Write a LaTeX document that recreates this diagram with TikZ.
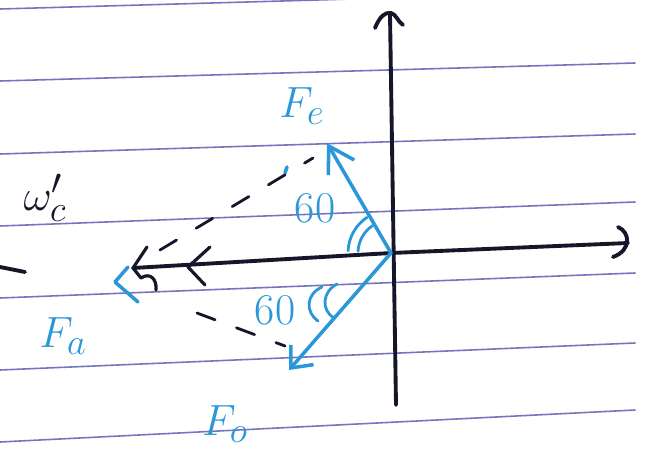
\documentclass[tikz,border=0pt]{standalone}
\usepackage{xcolor}
\usepackage{amsmath}
\usepackage{tikz}
\usetikzlibrary{arrows.meta}
\definecolor{inkblue}{HTML}{2A98D8}
\definecolor{inkblack}{HTML}{16162A}
\definecolor{rulepurple}{HTML}{5C5CB4}

\begin{document}
\begin{tikzpicture}[
    x=0.02cm, y=-0.02cm,
    line cap=round,
    line join=round,
    ruleline/.style={draw=rulepurple!85, line width=0.9pt},
    axisline/.style={draw=inkblack, line width=2.2pt},
    forceline/.style={draw=inkblue, line width=2pt},
    guideline/.style={draw=inkblack, line width=1.6pt, dash pattern=on 11pt off 13pt},
    anglemark/.style={draw=inkblue, line width=1.6pt},
    forcelbl/.style={text=inkblue, font=\fontsize{30}{34}\selectfont},
    anglelbl/.style={text=inkblue, font=\fontsize{25}{29}\selectfont},
    barbe/.style={-{Straight Barb[length=5mm,width=6mm]}},
    barbo/.style={-{Straight Barb[length=3.5mm,width=6mm]}}
]
\useasboundingbox[fill=white] (0,0) rectangle (645,453);
\clip (0,0) rectangle (645,453);

% Ruled paper
\foreach \yl/\yr in {9/-9, 81/63, 154/134, 226/202, 298/273, 370/343, 442/410}
    \draw[ruleline] (0,\yl) -- (635,\yr);

% Points
\coordinate (O) at (391,253);
\coordinate (ytop) at (390,14);
\coordinate (ybot) at (396,405);
\coordinate (xend) at (628,243);
\coordinate (xleft) at (133,268);
\coordinate (tipFe) at (327,143);
\coordinate (tipFo) at (289,370);
\coordinate (tipFa) at (115,282);

% Axes
\draw[axisline] (ybot) -- (ytop);
\draw[axisline] (375,28) .. controls (380,16) and (385,12) .. (391,13) .. controls (396,14) and (398,22) .. (403,25);
\draw[axisline] (xleft) -- (O) -- (xend);
\draw[axisline] (618,227) .. controls (630,232) and (632,250) .. (613,257);
\draw[axisline] (0,267) -- (25,272);

% Arrow marks on the left half of the axis
\draw[axisline, line width=1.8pt] (147,247) -- (xleft) -- (141,278) .. controls (150,272) and (157,279) .. (156,290);
\draw[axisline, line width=1.8pt] (210,247) -- (188,267) -- (205,285);

% Forces
\draw[forceline, barbe] (O) -- (tipFe);
\draw[forceline, barbo] (O) -- (tipFo);
\draw[forceline] (128,267) -- (tipFa) -- (138,302);
\draw[forceline] (287,167) -- (285,173);

% Guides
\coordinate (guideA) at (160,250);
\coordinate (guideB) at (313,158);
\coordinate (guideC) at (197,313);
\coordinate (guideD) at (285,346);
\draw[guideline] (guideA) -- (guideB);
\draw[guideline] (guideC) -- (guideD);

% Angles
\draw[anglemark] (O) ++(183:33) arc[start angle=183, end angle=236, radius=33];
\draw[anglemark] (O) ++(183:43) arc[start angle=183, end angle=236, radius=43];
\draw[anglemark] (322,287) .. controls (306,294) and (305,312) .. (318,321);
\draw[anglemark] (337,284) .. controls (322,292) and (321,310) .. (334,318);
\node[anglelbl] (ang1) at (315,208) {60};
\node[anglelbl] (ang2) at (275,310) {60};

% Labels
\node[forcelbl] (lblFe) at (302,106) {$F_e$};
\node[forcelbl] (lblFa) at (63,336) {$F_a$};
\node[forcelbl] (lblFo) at (225,424) {$F_o$};
\node[text=inkblack, font=\fontsize{28}{32}\selectfont] (lblw) at (45,198) {$\omega'_c$};

\end{tikzpicture}
\end{document}
